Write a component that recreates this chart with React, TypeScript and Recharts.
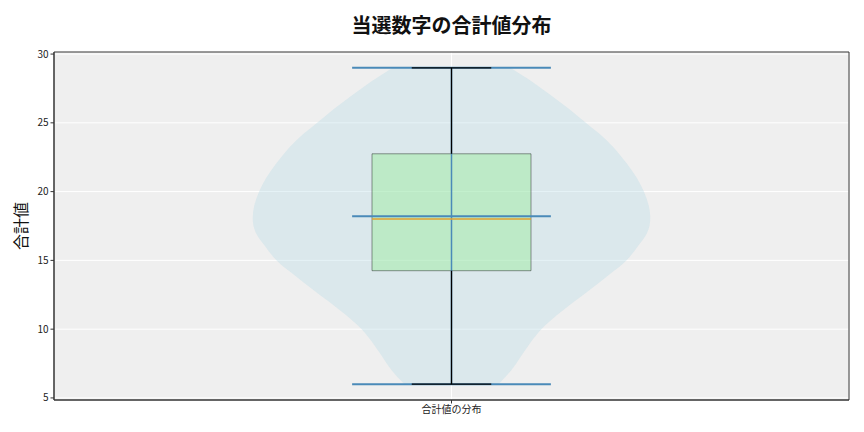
import React from "react";
import {
  ComposedChart,
  Area,
  XAxis,
  YAxis,
  CartesianGrid,
  ReferenceArea,
  ReferenceLine,
} from "recharts";

// violin outline: value on the y axis, half width (in x units)
const violinY = [29, 28, 27, 26, 25, 24, 23, 22, 21, 20, 19, 18, 17, 16, 15, 14, 13, 12, 11, 10, 9, 8, 7, 6];
const violinHalf = [
  0.074, 0.101, 0.125, 0.148, 0.169, 0.19, 0.207, 0.221, 0.233, 0.242, 0.248, 0.25,
  0.246, 0.234, 0.22, 0.199, 0.177, 0.154, 0.132, 0.113, 0.099, 0.087, 0.075, 0.059,
];

// box statistics
const minVal = 6;
const maxVal = 29;
const meanVal = 18.2;
const q1 = 14.25;
const medianVal = 18;
const q3 = 22.75;

const yTicks = [5, 10, 15, 20, 25, 30];
const categoryLabel = "合計値の分布";
const titleText = "当選数字の合計値分布";
const yLabel = "合計値";

const center = 1;
const data = violinY.map((y, i) => ({
  y,
  violin: [center - violinHalf[i], center + violinHalf[i]],
}));

const FONT = "'Noto Sans CJK JP', 'Noto Sans', sans-serif";
const BLUE = "#4a8ab8";

export default function App() {
  return (
    <div style={{ position: "absolute", left: 0, top: 0, width: 864, height: 432, background: "#fff", fontFamily: FONT }}>
      <div
        style={{
          position: "absolute",
          left: 54,
          width: 795,
          top: 10,
          textAlign: "center",
          fontSize: 20,
          fontWeight: 700,
          color: "#111",
        }}
      >
        {titleText}
      </div>
      <div
        style={{
          position: "absolute",
          left: 20,
          top: 226,
          transform: "translate(-50%, -50%) rotate(-90deg)",
          fontSize: 16,
          color: "#111",
          whiteSpace: "nowrap",
        }}
      >
        {yLabel}
      </div>
      <ComposedChart
        width={864}
        height={432}
        data={data}
        layout="vertical"
        margin={{ top: 52, right: 15, bottom: 2, left: 0 }}
      >
        <CartesianGrid stroke="#ffffff" strokeWidth={1} fill="#efefef" fillOpacity={1} />
        <XAxis
          type="number"
          domain={[0.5, 1.5]}
          ticks={[1]}
          tickFormatter={() => categoryLabel}
          height={30}
          tick={{ fontSize: 10, fill: "#222", fontFamily: FONT }}
          tickSize={3.5}
          axisLine={{ stroke: "#333" }}
          tickLine={{ stroke: "#333" }}
          allowDataOverflow
        />
        <YAxis
          type="number"
          dataKey="y"
          domain={[4.85, 30.15]}
          ticks={yTicks}
          width={54}
          reversed
          tick={{ fontSize: 10, fill: "#222", fontFamily: FONT }}
          tickSize={3.5}
          axisLine={{ stroke: "#333" }}
          tickLine={{ stroke: "#333" }}
          allowDataOverflow
        />
        <Area
          dataKey="violin"
          type="natural"
          stroke="none"
          fill="#add8e6"
          fillOpacity={0.3}
          isAnimationActive={false}
          dot={false}
          activeDot={false}
        />
        {/* violin extrema and mean */}
        <ReferenceLine segment={[{ x: center, y: minVal }, { x: center, y: maxVal }]} stroke={BLUE} strokeWidth={1.5} />
        <ReferenceLine segment={[{ x: 0.875, y: maxVal }, { x: 1.125, y: maxVal }]} stroke={BLUE} strokeWidth={2} />
        <ReferenceLine segment={[{ x: 0.875, y: minVal }, { x: 1.125, y: minVal }]} stroke={BLUE} strokeWidth={2} />
        <ReferenceLine segment={[{ x: 0.875, y: meanVal }, { x: 1.125, y: meanVal }]} stroke={BLUE} strokeWidth={2} />
        {/* box plot */}
        <ReferenceArea
          x1={0.9}
          x2={1.1}
          y1={q1}
          y2={q3}
          fill="#90ee90"
          fillOpacity={0.4}
          stroke="#000"
          strokeOpacity={0.4}
          strokeWidth={1}
        />
        <ReferenceLine segment={[{ x: center, y: q3 }, { x: center, y: maxVal }]} stroke="#000" strokeWidth={1.3} />
        <ReferenceLine segment={[{ x: center, y: minVal }, { x: center, y: q1 }]} stroke="#000" strokeWidth={1.3} />
        <ReferenceLine segment={[{ x: 0.95, y: maxVal }, { x: 1.05, y: maxVal }]} stroke="#000" strokeWidth={1.3} />
        <ReferenceLine segment={[{ x: 0.95, y: minVal }, { x: 1.05, y: minVal }]} stroke="#000" strokeWidth={1.3} />
        <ReferenceLine segment={[{ x: 0.9, y: medianVal }, { x: 1.1, y: medianVal }]} stroke="#e0a030" strokeWidth={1.5} />
        {/* axes frame */}
        <ReferenceArea x1={0.5} x2={1.5} y1={4.85} y2={30.15} fill="none" stroke="#333" strokeWidth={1} ifOverflow="visible" />
      </ComposedChart>
    </div>
  );
}
